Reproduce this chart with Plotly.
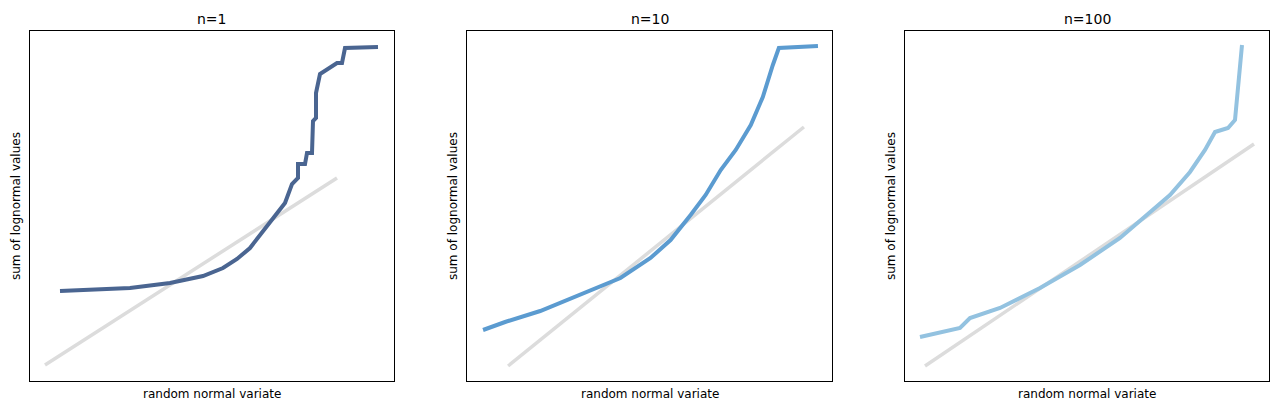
import plotly.graph_objects as go

# panel-relative coordinates (data units)
x1 = [30,100,140,173,193,207,220,233,243,255,262,268,268,275,277,282,283,286,286,290,307,312,315,348]
y1 = [260,257,252,245,237,228,217,200,187,172,153,147,133,133,122,122,90,87,62,43,32,32,17,16]
l1x = [15,307]; l1y = [334,147]
x2 = [16,38,73,113,153,183,203,223,238,253,268,283,295,305,311,350]
y2 = [299,291,280,264,247,227,209,184,164,139,119,94,66,34,17,15]
l2x = [41,336]; l2y = [335,96]
x3 = [15,55,65,95,135,175,215,245,265,285,300,310,323,330,337]
y3 = [306,297,287,277,257,234,207,181,164,141,119,101,97,89,14]
l3x = [20,349]; l3y = [335,113]
titles = ["n=1","n=10","n=100"]
colors = ["#4a6591","#5b9bd0","#93c2e0"]

fig = go.Figure()
W, H = 1279, 411
O = 8  # page body margin
def px(v): return (v - O) / W
def py(v): return (H - (v - O)) / H
doms = [(30,394),(467,832),(905,1269)]
data = [(x1,y1,l1x,l1y),(x2,y2,l2x,l2y),(x3,y3,l3x,l3y)]
for i,(xs,ys,lx,ly) in enumerate(data):
    ax = "" if i == 0 else str(i+1)
    fig.add_trace(go.Scatter(x=lx, y=[350-v for v in ly], mode="lines",
        line=dict(color="#dcdcdc", width=3.5), xaxis="x"+ax, yaxis="y"+ax, showlegend=False))
    fig.add_trace(go.Scatter(x=xs, y=[350-v for v in ys], mode="lines",
        line=dict(color=colors[i], width=4, shape="linear"), xaxis="x"+ax, yaxis="y"+ax, showlegend=False))
    fig.layout["xaxis"+ax] = dict(domain=[px(doms[i][0]), min(px(doms[i][1]),1)], range=[0,364],
        showticklabels=False, showgrid=False, zeroline=False, showline=True, mirror=True,
        linecolor="black", linewidth=1, ticks="", anchor="y"+ax)
    fig.layout["yaxis"+ax] = dict(domain=[py(381), py(31)], range=[0,350], showticklabels=False,
        showgrid=False, zeroline=False, showline=True, mirror=True, linecolor="black", linewidth=1,
        ticks="", anchor="x"+ax)
    cx = px((doms[i][0]+doms[i][1])/2)
    fig.add_annotation(text=titles[i], x=cx, y=py(19), xref="paper", yref="paper",
        xanchor="center", yanchor="middle", showarrow=False, font=dict(size=14, color="black"))
    fig.add_annotation(text="random normal variate", x=cx, y=py(394), xref="paper", yref="paper",
        xanchor="center", yanchor="middle", showarrow=False, font=dict(size=12, color="black"))
    fig.add_annotation(text="sum of lognormal values", x=px(doms[i][0]-14), y=py(206),
        xref="paper", yref="paper", xanchor="center", yanchor="middle", showarrow=False,
        textangle=-90, font=dict(size=12, color="black"))

fig.update_layout(width=W, height=H, margin=dict(l=0,r=0,t=0,b=0), plot_bgcolor="white",
    paper_bgcolor="white", font=dict(family="DejaVu Sans"))
fig.write_html("out.html")
